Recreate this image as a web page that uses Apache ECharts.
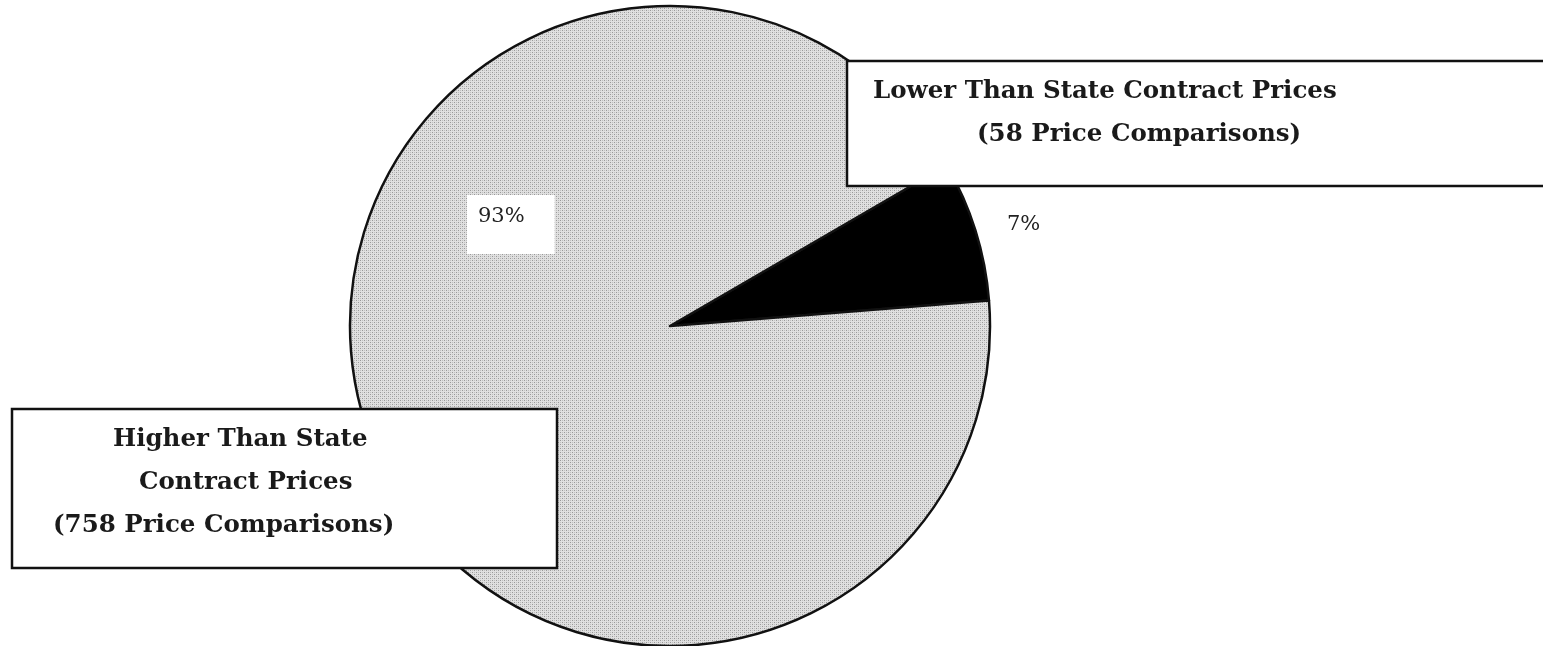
<!DOCTYPE html>
<html>
<head>
<meta charset="utf-8">
<script src="https://cdn.jsdelivr.net/npm/echarts@6/dist/echarts.min.js"></script>
<style>html,body{margin:0;padding:0;background:#fff;}#c{width:1543px;height:646px;}</style>
</head>
<body>
<div id="c"></div>
<script>
// Data
const categories = ['Lower Than State Contract Prices', 'Higher Than State Contract Prices'];
const counts = [58, 758];
const sliceColors = ['#000000', 'pattern'];
const lowerLines = ['Lower Than State Contract Prices', '(' + counts[0] + ' Price Comparisons)'];
const higherLines = ['Higher Than State', 'Contract Prices', '(' + counts[1] + ' Price Comparisons)'];

const total = counts.reduce((a, b) => a + b, 0);

// dotted grey texture
const pc = document.createElement('canvas');
pc.width = 4; pc.height = 4;
const g = pc.getContext('2d');
g.fillStyle = '#e0e0e0'; g.fillRect(0, 0, 4, 4);
g.fillStyle = '#999999';
g.fillRect(0, 0, 1, 1); g.fillRect(2, 2, 1, 1);
g.fillStyle = '#c0c0c0';
g.fillRect(2, 0, 1, 1); g.fillRect(0, 2, 1, 1);

const chart = echarts.init(document.getElementById('c'), null, {renderer: 'canvas'});
const serifBold = {fontFamily: 'DejaVu Serif', fontWeight: 'bold', fontSize: 24.5, fill: '#1a1a1a'};

function textEl(str, x, y) {
  return {type: 'text', left: x, top: y - 13, z: 20,
    style: Object.assign({text: str, verticalAlign: 'top'}, serifBold)};
}

chart.setOption({
  animation: false,
  series: [{
    type: 'pie',
    center: [670, 326],
    radius: 320,
    startAngle: 30.15,
    clockwise: true,
    avoidLabelOverlap: false,
    labelLine: {show: false},
    itemStyle: {borderColor: '#111', borderWidth: 2.5},
    label: {
      show: true,
      formatter: p => Math.round(p.value / total * 100) + '%',
      fontFamily: 'DejaVu Serif', fontSize: 21, color: '#222', lineHeight: 24
    },
    labelLayout: function (params) {
      if (params.dataIndex === 0) {
        return {x: 1007, y: 213, align: 'left', verticalAlign: 'top'};
      }
      return {x: 467, y: 195, align: 'left', verticalAlign: 'top'};
    },
    data: categories.map((name, i) => ({
      name: name,
      value: counts[i],
      itemStyle: {color: sliceColors[i] === 'pattern' ? {image: pc, repeat: 'repeat'} : sliceColors[i]},
      label: i === 1 ? {backgroundColor: '#fff', padding: [10, 30, 25, 11]} : {}
    }))
  }],
  graphic: [
    {type: 'rect', z: 10, shape: {x: 847, y: 61, width: 720, height: 125},
      style: {fill: '#fff', stroke: '#111', lineWidth: 2.5}},
    textEl(lowerLines[0], 873, 92),
    textEl(lowerLines[1], 977, 135),
    {type: 'rect', z: 10, shape: {x: 12, y: 409, width: 545, height: 159},
      style: {fill: '#fff', stroke: '#111', lineWidth: 2.5}},
    textEl(higherLines[0], 113, 440),
    textEl(higherLines[1], 139, 483),
    textEl(higherLines[2], 53, 526)
  ]
});
</script>
</body>
</html>
